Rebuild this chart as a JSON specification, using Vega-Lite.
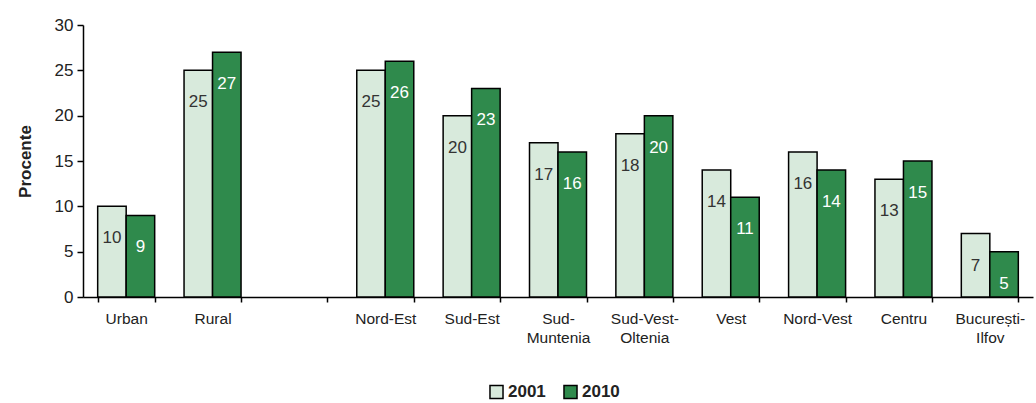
{
  "$schema": "https://vega.github.io/schema/vega-lite/v6.json",
  "autosize": "none",
  "width": 950,
  "height": 272,
  "padding": {"left": 83, "top": 25, "right": 3, "bottom": 106},
  "background": "white",
  "config": {
    "font": "Liberation Sans",
    "view": {"stroke": null}
  },
  "data": {
    "values": [
      {"region": "Urban", "year": "2001", "value": 10},
      {"region": "Urban", "year": "2010", "value": 9},
      {"region": "Rural", "year": "2001", "value": 25},
      {"region": "Rural", "year": "2010", "value": 27},
      {"region": "Nord-Est", "year": "2001", "value": 25},
      {"region": "Nord-Est", "year": "2010", "value": 26},
      {"region": "Sud-Est", "year": "2001", "value": 20},
      {"region": "Sud-Est", "year": "2010", "value": 23},
      {"region": "Sud-Muntenia", "year": "2001", "value": 17},
      {"region": "Sud-Muntenia", "year": "2010", "value": 16},
      {"region": "Sud-Vest-Oltenia", "year": "2001", "value": 18},
      {"region": "Sud-Vest-Oltenia", "year": "2010", "value": 20},
      {"region": "Vest", "year": "2001", "value": 14},
      {"region": "Vest", "year": "2010", "value": 11},
      {"region": "Nord-Vest", "year": "2001", "value": 16},
      {"region": "Nord-Vest", "year": "2010", "value": 14},
      {"region": "Centru", "year": "2001", "value": 13},
      {"region": "Centru", "year": "2010", "value": 15},
      {"region": "București-Ilfov", "year": "2001", "value": 7},
      {"region": "București-Ilfov", "year": "2010", "value": 5}
    ]
  },
  "encoding": {
    "x": {
      "field": "region",
      "type": "nominal",
      "scale": {
        "domain": ["Urban", "Rural", " ", "Nord-Est", "Sud-Est", "Sud-Muntenia", "Sud-Vest-Oltenia", "Vest", "Nord-Vest", "Centru", "București-Ilfov"],
        "paddingInner": 0.34,
        "paddingOuter": 0.17
      },
      "axis": {
        "title": null,
        "labelAngle": 0,
        "tickBand": "extent",
        "domainColor": "black",
        "domainWidth": 1.5,
        "tickColor": "black",
        "tickWidth": 1.5,
        "tickSize": 5,
        "labelFontSize": 15.5,
        "labelColor": "#222",
        "labelPadding": 9,
        "labelLineHeight": 19,
        "labelBaseline": "top",
        "labelExpr": "datum.label == 'Sud-Muntenia' ? ['Sud-', 'Muntenia'] : datum.label == 'Sud-Vest-Oltenia' ? ['Sud-Vest-', 'Oltenia'] : datum.label == 'București-Ilfov' ? ['București-', 'Ilfov'] : datum.label"
      }
    },
    "xOffset": {"field": "year", "type": "nominal"},
    "y": {
      "field": "value",
      "type": "quantitative",
      "scale": {"domain": [0, 30]},
      "axis": {
        "title": "Procente",
        "titleFontSize": 17,
        "titleFontWeight": "bold",
        "titleColor": "#222",
        "titlePadding": 20,
        "values": [0, 5, 10, 15, 20, 25, 30],
        "grid": false,
        "domainColor": "black",
        "domainWidth": 1.5,
        "tickColor": "black",
        "tickWidth": 1.5,
        "tickSize": 6,
        "labelFontSize": 17,
        "labelColor": "#222",
        "labelPadding": 4
      }
    }
  },
  "layer": [
    {
      "mark": {"type": "bar", "stroke": "black", "strokeWidth": 1.5},
      "encoding": {
        "color": {
          "field": "year",
          "type": "nominal",
          "scale": {"domain": ["2001", "2010"], "range": ["#d8eadc", "#2f8a4c"]},
          "legend": {
            "title": null,
            "orient": "none",
            "legendX": 405,
            "legendY": 358,
            "direction": "horizontal",
            "symbolType": "square",
            "symbolSize": 170,
            "symbolStrokeColor": "black",
            "symbolStrokeWidth": 1.5,
            "symbolOpacity": 1,
            "labelFontSize": 17,
            "labelFontWeight": "bold",
            "labelColor": "#222",
            "columnPadding": 14,
            "labelOffset": 3
          }
        }
      }
    },
    {
      "mark": {"type": "text", "baseline": "middle", "align": "center", "dy": 32, "fontSize": 17},
      "encoding": {
        "text": {"field": "value", "type": "quantitative"},
        "color": {
          "condition": {"test": "datum.year == '2010'", "value": "white"},
          "value": "#333"
        },
        "fontWeight": {
          "condition": {"test": "datum.year == '2010'", "value": "bold"},
          "value": "normal"
        }
      }
    }
  ]
}
